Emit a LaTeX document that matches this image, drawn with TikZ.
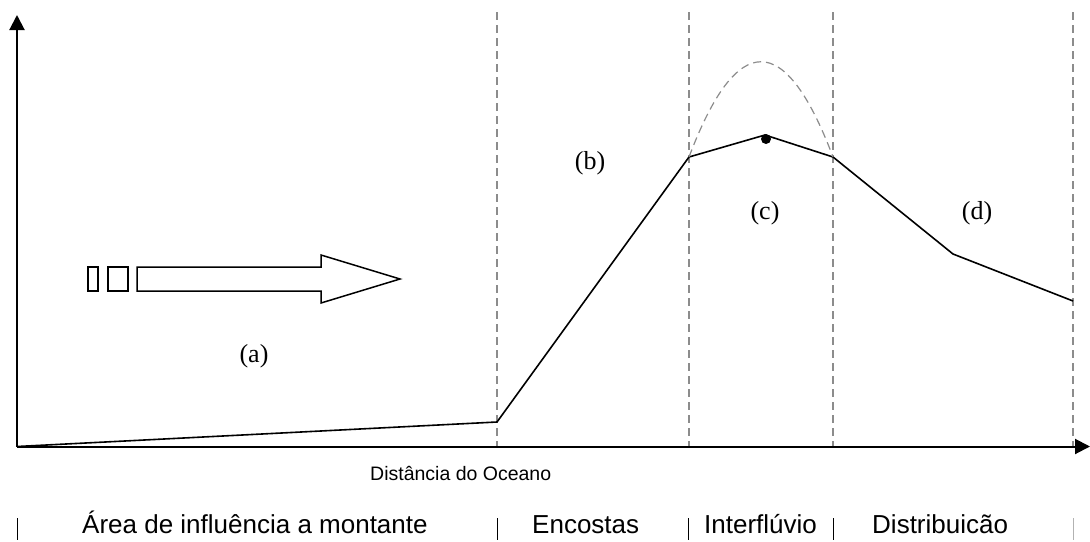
\documentclass[tikz,border=0pt]{standalone}
\usepackage{fontspec}
\setmainfont{Liberation Serif}
\newfontfamily\arialf{Liberation Sans}
\usetikzlibrary{arrows.meta}
\definecolor{dashgray}{HTML}{8C8C8C}
\tikzset{
  axisline/.style={line width=2pt,-{Triangle[length=15pt,width=15pt]}},
  divline/.style={dashgray,line width=1.3pt,dash pattern=on 8pt off 5pt},
  profile/.style={line width=1.6pt,line join=miter},
  seg/.style={line width=1pt},
  lbl/.style={inner sep=0pt,font=\fontsize{26}{30}\selectfont},
  bottomlbl/.style={inner sep=0pt,anchor=base west,font=\arialf\fontsize{26}{30}\selectfont},
  boxarrow/.style={line width=1.5pt,line join=miter,fill=white}
}
\begin{document}
\begin{tikzpicture}[x=1pt,y=-1pt]
\useasboundingbox (0,0) rectangle (1090,541);
% divider dashed lines
\foreach \xx/\nm in {497/d1,689/d2,833/d3,1073/d4}{
  \coordinate (\nm t) at (\xx,12);
  \coordinate (\nm b) at (\xx,446);
  \draw[divline] (\nm t) -- (\nm b);
}
% axes
\coordinate (O) at (17,446.5);
\coordinate (Ytop) at (17,15);
\coordinate (Xend) at (1090,446.5);
\draw[axisline] (O) -- (Ytop);
\draw[axisline] (O) -- (Xend);
% profile
\coordinate (p1) at (497,422);
\coordinate (p2) at (689,157);
\coordinate (p3) at (765,135);
\coordinate (p4) at (833,157);
\coordinate (p5) at (953,254);
\coordinate (p6) at (1073,301);
\draw[profile] (O) -- (p1) -- (p2) -- (p3) -- (p4) -- (p5) -- (p6);
% dashed hump
\draw[divline,line width=1.2pt] (p2) .. controls (737,30) and (785,30) .. (p4);
% summit dot
\node[circle,fill=black,inner sep=0pt,minimum size=10pt] (summit) at (766,139) {};
% block arrow
\draw[boxarrow] (137,267) -- (321,267) -- (321,255) -- (400,279) -- (321,303) -- (321,291) -- (137,291) -- cycle;
\draw[line width=1.5pt] (88,267) rectangle (98,291);
\draw[line width=1.5pt] (108,267) rectangle (128,291);
% labels
\node[lbl] (la) at (254,356) {(a)};
\node[lbl] (lb) at (590,163) {(b)};
\node[lbl] (lc) at (765,213) {(c)};
\node[lbl] (ld) at (977,213) {(d)};
\node[inner sep=0pt,anchor=base west,font=\arialf\fontsize{19.5}{22}\selectfont] (xlabel) at (370,480) {Distância do Oceano};
% bottom labels
\node[bottomlbl] (z1) at (82,533) {Área de influência a montante};
\node[bottomlbl] (z2) at (532,533) {Encostas};
\node[bottomlbl] (z3) at (704,533) {Interflúvio};
\node[bottomlbl] (z4) at (872,533) {Distribuicão};
\foreach \xx/\nm in {17/t1,497/t2,688/t3,833/t4}{
  \coordinate (\nm a) at (\xx,518);
  \coordinate (\nm b) at (\xx,540);
  \draw[seg] (\nm a) -- (\nm b);
}
\coordinate (t5a) at (1073,518);
\coordinate (t5b) at (1073,540);
\draw[seg,gray!60] (t5a) -- (t5b);
\end{tikzpicture}
\end{document}
